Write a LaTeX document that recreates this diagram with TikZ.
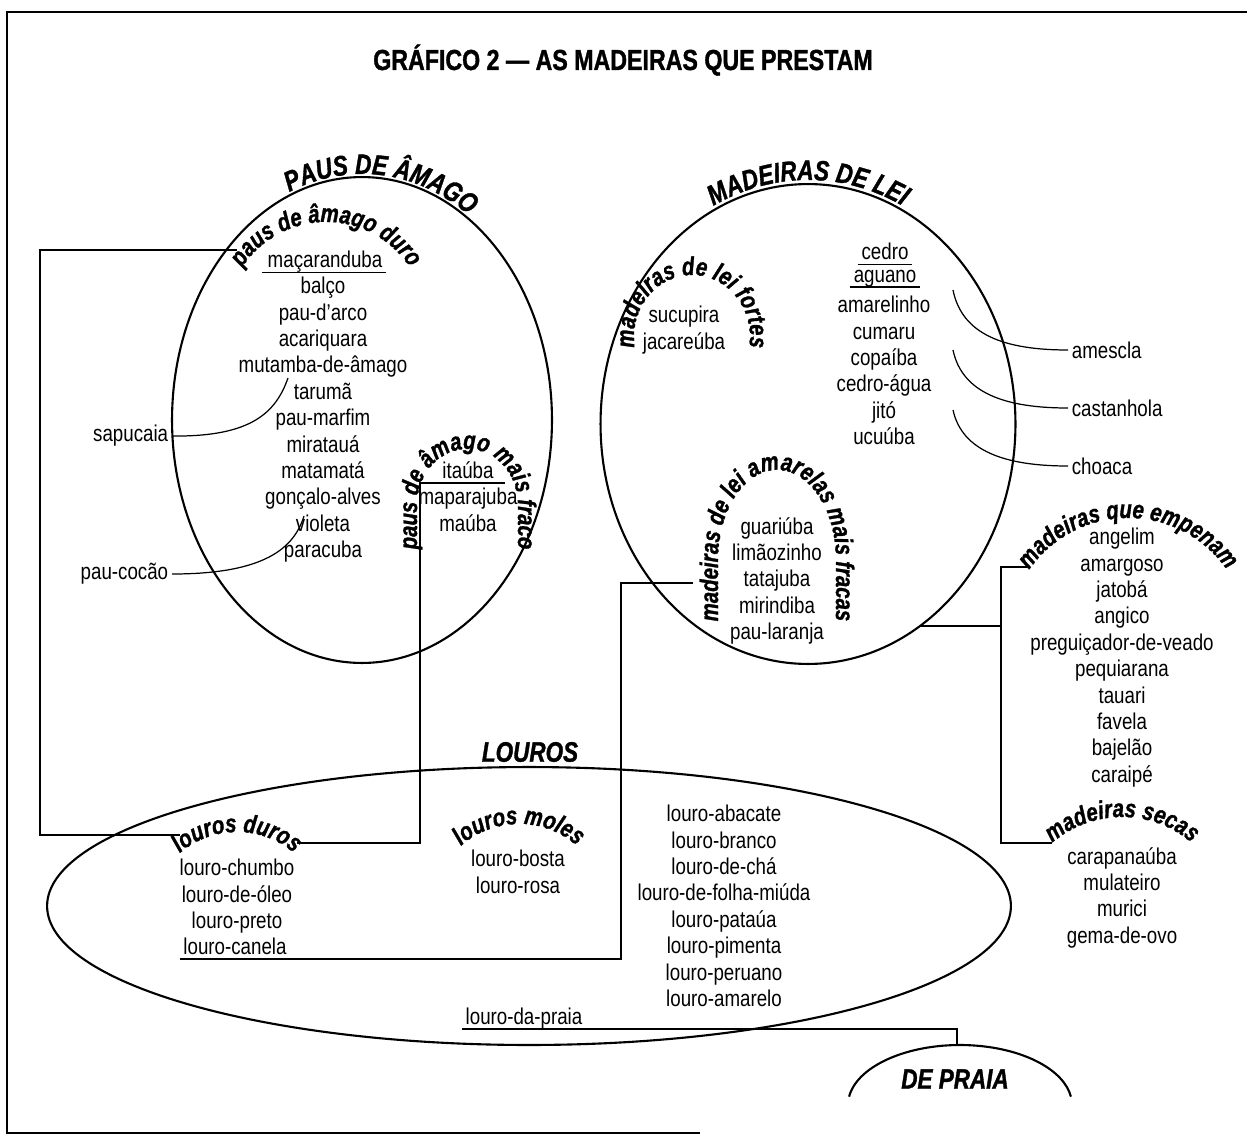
\documentclass[tikz,border=0pt]{standalone}
\usepackage{fontspec}
\setmainfont{Liberation Sans}[FakeStretch=0.82]
\newfontfamily\headfont{Liberation Sans}[FakeStretch=0.8, BoldFeatures={FakeBold=1.2}, BoldItalicFeatures={FakeBold=1.2}]
\usetikzlibrary{positioning}
\usetikzlibrary{shapes.geometric}
\usetikzlibrary{decorations.text}

\newcommand{\woodfont}{\fontsize{13}{15}\selectfont}
\newcommand{\groupfont}{\headfont\bfseries\itshape\fontsize{16}{18}\selectfont}
\newcommand{\kindfont}{\headfont\bfseries\itshape\fontsize{14.5}{16}\selectfont}

\tikzset{
  wood/.style={font=\woodfont, align=center, inner sep=0pt, anchor=north},
  tag/.style={font=\woodfont, inner sep=2pt},
  oval/.style={draw, ellipse, line width=1.2pt, inner sep=0pt, outer sep=0pt},
  link/.style={line width=1.1pt},
  lead/.style={line width=0.7pt},
  under/.style={line width=0.8pt},
  kind text/.style={decorate, decoration={text along path, text align=center, text={|\kindfont|#1}}},
  group text/.style={decorate, decoration={text along path, text align=center, text={|\groupfont|#1}}},
}

\begin{document}
\begin{tikzpicture}[x=0.02cm, y=0.02cm]
  \useasboundingbox (0,0) rectangle (1247,-1143);

  % Frame and title
  \draw[line width=0.8pt] (1247,-12) -- (7,-12) -- (7,-1133) -- (700,-1133);
  \node[font=\headfont\bfseries\fontsize{16.5}{18}\selectfont] (title) at (623,-60) {GRÁFICO 2 — AS MADEIRAS QUE PRESTAM};

  % Groups
  \node[oval, minimum width=7.6cm, minimum height=9.72cm] (paus) at (362,-420) {};
  \node[oval, minimum width=8.3cm, minimum height=9.6cm] (lei) at (808,-424) {};
  \node[oval, minimum width=19.28cm, minimum height=5.56cm] (louros) at (529,-906) {};
  \draw[line width=1.2pt] ([shift={(172:112 and 60)}]960,-1105) arc[start angle=172, end angle=8, x radius=112, y radius=60];

  \path[group text={PAUS DE ÂMAGO}] ([shift={(148:193 and 246)}]362,-420) arc[start angle=148, end angle=22, x radius=193, y radius=246];
  \path[group text={MADEIRAS DE LEI}] ([shift={(150:211 and 244)}]808,-424) arc[start angle=150, end angle=30, x radius=211, y radius=244];
  \node[font=\groupfont] (louros_head) at (530,-752) {LOUROS};
  \node[font=\groupfont] (praia_head) at (955,-1079) {DE PRAIA};

  % Kinds
  \path[kind text={paus de âmago duro}] ([shift={(200:100)}]326,-322) arc[start angle=200, end angle=-20, radius=100];
  \path[kind text={paus de âmago mais fraco}] (417,-566) -- (417,-505) arc[start angle=180, end angle=0, x radius=50.5, y radius=56] -- (518,-566);
  \path[kind text={madeiras de lei fortes}] ([shift={(215:58 and 62)}]692,-337) arc[start angle=215, end angle=-35, x radius=58, y radius=62];
  \path[kind text={madeiras de lei amarelas mais fracas}] (718,-680) -- (718,-560) arc[start angle=180, end angle=0, x radius=59, y radius=90] -- (836,-680);
  \path[kind text={louros duros}] ([shift={(160:88)}]237,-920) arc[start angle=160, end angle=20, radius=88];
  \path[kind text={louros moles}] ([shift={(160:88)}]519,-912) arc[start angle=160, end angle=20, radius=88];
  \path[kind text={madeiras que empenam}] ([shift={(170:120)}]1128,-638) arc[start angle=170, end angle=10, radius=120];
  \path[kind text={madeiras secas}] ([shift={(150:107)}]1122,-924) arc[start angle=150, end angle=30, radius=107];

  % Woods
  \node[wood] (macaranduba) at (325,-251) {maçaranduba};
  \node[wood] (duro_list) at (323,-277) {balço\\pau-d'arco\\acariquara\\mutamba-de-âmago\\tarumã\\pau-marfim\\miratauá\\matamatá\\gonçalo-alves\\violeta\\paracuba};
  \node[wood] (itauba) at (468,-461) {itaúba};
  \node[wood] (fraco_list) at (468,-488) {maparajuba\\maúba};
  \node[wood] (fortes_list) at (684,-306) {sucupira\\jacareúba};
  \node[wood] (cedro) at (885,-243) {cedro};
  \node[wood] (aguano) at (885,-270) {aguano};
  \node[wood] (lei_list) at (884,-296) {amarelinho\\cumaru\\copaíba\\cedro-água\\jitó\\ucuúba};
  \node[wood] (amarelas_list) at (777,-517) {guariúba\\limãozinho\\tatajuba\\mirindiba\\pau-laranja};
  \node[wood] (empenam_list) at (1122,-528) {angelim\\amargoso\\jatobá\\angico\\preguiçador-de-veado\\pequiarana\\tauari\\favela\\bajelão\\caraipé};
  \node[wood] (secas_list) at (1122,-847) {carapanaúba\\mulateiro\\murici\\gema-de-ovo};
  \node[wood] (duros_list) at (237,-859) {louro-chumbo\\louro-de-óleo\\louro-preto};
  \node[wood] (canela) at (235,-938) {louro-canela};
  \node[wood] (moles_list) at (518,-850) {louro-bosta\\louro-rosa};
  \node[wood] (louros_list) at (724,-805) {louro-abacate\\louro-branco\\louro-de-chá\\louro-de-folha-miúda\\louro-pataúa\\louro-pimenta\\louro-peruano\\louro-amarelo};
  \node[wood] (praia_word) at (524,-1008) {louro-da-praia};

  \node[tag, anchor=east] (sapucaia) at (172,-436) {sapucaia};
  \node[tag, anchor=east] (paucocao) at (172,-574) {pau-cocão};
  \node[tag, anchor=west] (amescla) at (1068,-350) {amescla};
  \node[tag, anchor=west] (castanhola) at (1068,-408) {castanhola};
  \node[tag, anchor=west] (choaca) at (1068,-466) {choaca};

  % Underlines
  \draw[under] ([shift={(-3pt,-2.5pt)}]macaranduba.base west) -- ([shift={(2pt,-2.5pt)}]macaranduba.base east);
  \draw[under] ([shift={(-2pt,-2.5pt)}]cedro.base west) -- ([shift={(2pt,-2.5pt)}]cedro.base east);
  \draw[under] ([shift={(-2pt,-2.5pt)}]aguano.base west) -- ([shift={(2pt,-2.5pt)}]aguano.base east);

  % Connect groups
  \coordinate (duro_in) at (237,-250);
  \coordinate (duros_in) at (180,-835);
  \coordinate (duros_out) at (297,-843);
  \coordinate (fraco_in) at (420,-483);
  \coordinate (itauba_e) at (505,-483);
  \coordinate (amarelas_in) at (693,-583);
  \coordinate (empenam_in) at (1030,-567);
  \coordinate (secas_in) at (1052,-843);
  \coordinate (praia_top) at (957,-1045);

  \draw[link] (duro_in) -- ++(-197,0) |- (duros_in);
  \draw[link] (duros_out) -| (fraco_in) -- (itauba_e);
  \draw[link] ([shift={(-2pt,-2.5pt)}]canela.base west) -- ++(441,0) |- (amarelas_in);
  \draw[link] (empenam_in) -- ++(-29,0) coordinate (rail) |- (secas_in);
  \draw[link] (lei.-61) -- (lei.-61 -| rail);
  \draw[link] ([shift={(-2pt,-2.5pt)}]praia_word.base west) -| (praia_top);

  % Leads
  \coordinate (sapucaia_end) at (288,-378);
  \coordinate (paucocao_end) at (304,-516);
  \coordinate (amescla_end) at (953,-290);
  \coordinate (castanhola_end) at (953,-350);
  \coordinate (choaca_end) at (953,-410);
  \draw[lead] (sapucaia.east) .. controls (252,-437) and (276,-412) .. (sapucaia_end);
  \draw[lead] (paucocao.east) .. controls (265,-574) and (294,-548) .. (paucocao_end);
  \draw[lead] (amescla.west) .. controls (1005,-350) and (962,-335) .. (amescla_end);
  \draw[lead] (castanhola.west) .. controls (1005,-408) and (962,-393) .. (castanhola_end);
  \draw[lead] (choaca.west) .. controls (1005,-466) and (962,-451) .. (choaca_end);

\end{tikzpicture}
\end{document}
